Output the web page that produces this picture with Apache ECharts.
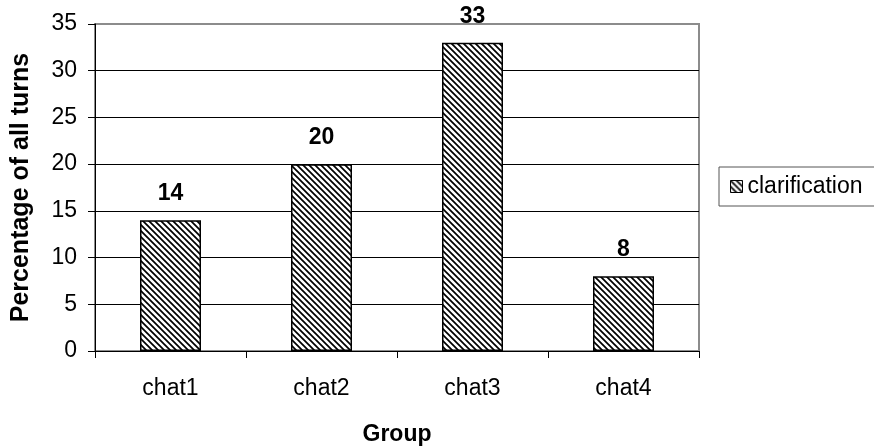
<!DOCTYPE html>
<html>
<head>
<meta charset="utf-8">
<script src="https://cdn.jsdelivr.net/npm/echarts@6/dist/echarts.min.js"></script>
<style>
  html, body { margin: 0; padding: 0; background: #fff; }
  #chart { width: 874px; height: 446px; }
</style>
</head>
<body>
<div id="chart"></div>
<script>
// Share of clarification turns per chat group
const groups = ['chat1', 'chat2', 'chat3', 'chat4'];
const clarification = [14, 20, 33, 8];
const yTicks = [0, 5, 10, 15, 20, 25, 30, 35];

const FONT = '"Liberation Sans", Arial, sans-serif';

// Diagonal hatch fill ("\\\\") used for the bars and the legend swatch
function hatchPattern() {
  const size = 6;
  const c = document.createElement('canvas');
  c.width = size; c.height = size;
  const g = c.getContext('2d');
  g.fillStyle = '#fff';
  g.fillRect(0, 0, size, size);
  g.strokeStyle = '#000';
  g.lineWidth = 1.7;
  g.beginPath();
  g.moveTo(-1, -1); g.lineTo(size + 1, size + 1);
  g.moveTo(-size - 1, -1); g.lineTo(1, size + 1);
  g.moveTo(size - 1, -size - 1); g.lineTo(2 * size + 1, size + 1);
  g.moveTo(-1, -size - 1); g.lineTo(size + 1, 1);
  g.moveTo(-1, size - 1); g.lineTo(size + 1, 2 * size + 1);
  g.stroke();
  return { image: c, repeat: 'repeat' };
}
const hatch = hatchPattern();

// top gridline drawn grey like the frame, the rest black
const splitColors = yTicks.map((v, i) => i === yTicks.length - 1 ? '#8c8c8c' : '#000');

const chart = echarts.init(document.getElementById('chart'), null, { renderer: 'canvas' });
chart.setOption({
  animation: false,
  backgroundColor: '#fff',
  grid: {
    left: 95, right: 175, top: 24, bottom: 95,
    outerBoundsMode: 'none',
    containLabel: false,
    show: true, borderColor: '#8c8c8c', borderWidth: 2, backgroundColor: '#fff'
  },
  legend: {
    left: 719, top: 167,
    orient: 'vertical',
    padding: [8, 20, 8, 11],
    borderColor: '#555', borderWidth: 1,
    itemWidth: 12, itemHeight: 12,
    icon: 'rect',
    itemStyle: { color: hatch, borderColor: '#000', borderWidth: 1 },
    textStyle: { fontFamily: FONT, fontSize: 23, color: '#000' },
    data: ['clarification']
  },
  xAxis: {
    type: 'category',
    data: groups,
    axisLine: { lineStyle: { color: '#000', width: 1 } },
    axisTick: { show: true, alignWithLabel: false, length: 7, lineStyle: { color: '#000' } },
    axisLabel: { fontFamily: FONT, fontSize: 23, color: '#000', margin: 26 },
    name: 'Group',
    nameLocation: 'middle',
    nameGap: 72,
    nameTextStyle: { fontFamily: FONT, fontSize: 23, fontWeight: 'bold', color: '#000' }
  },
  yAxis: {
    type: 'value',
    min: 0, max: 35, interval: 5,
    axisLine: { show: true, lineStyle: { color: '#000', width: 1 } },
    axisTick: { show: true, length: 7, lineStyle: { color: '#000' } },
    axisLabel: { fontFamily: FONT, fontSize: 23, color: '#000', margin: 18 },
    splitLine: { show: true, lineStyle: { color: splitColors, width: 1 } },
    name: 'Percentage of all turns',
    nameLocation: 'middle',
    nameRotate: 90,
    nameGap: 61,
    nameTextStyle: { fontFamily: FONT, fontSize: 25, fontWeight: 'bold', color: '#000' }
  },
  series: [{
    name: 'clarification',
    type: 'bar',
    data: clarification,
    barWidth: 61,
    itemStyle: { color: hatch, borderColor: '#000', borderWidth: 1.5 },
    label: {
      show: true,
      position: 'top',
      distance: 15,
      fontFamily: FONT, fontSize: 23, fontWeight: 'bold', color: '#000'
    }
  }]
});
</script>
</body>
</html>
